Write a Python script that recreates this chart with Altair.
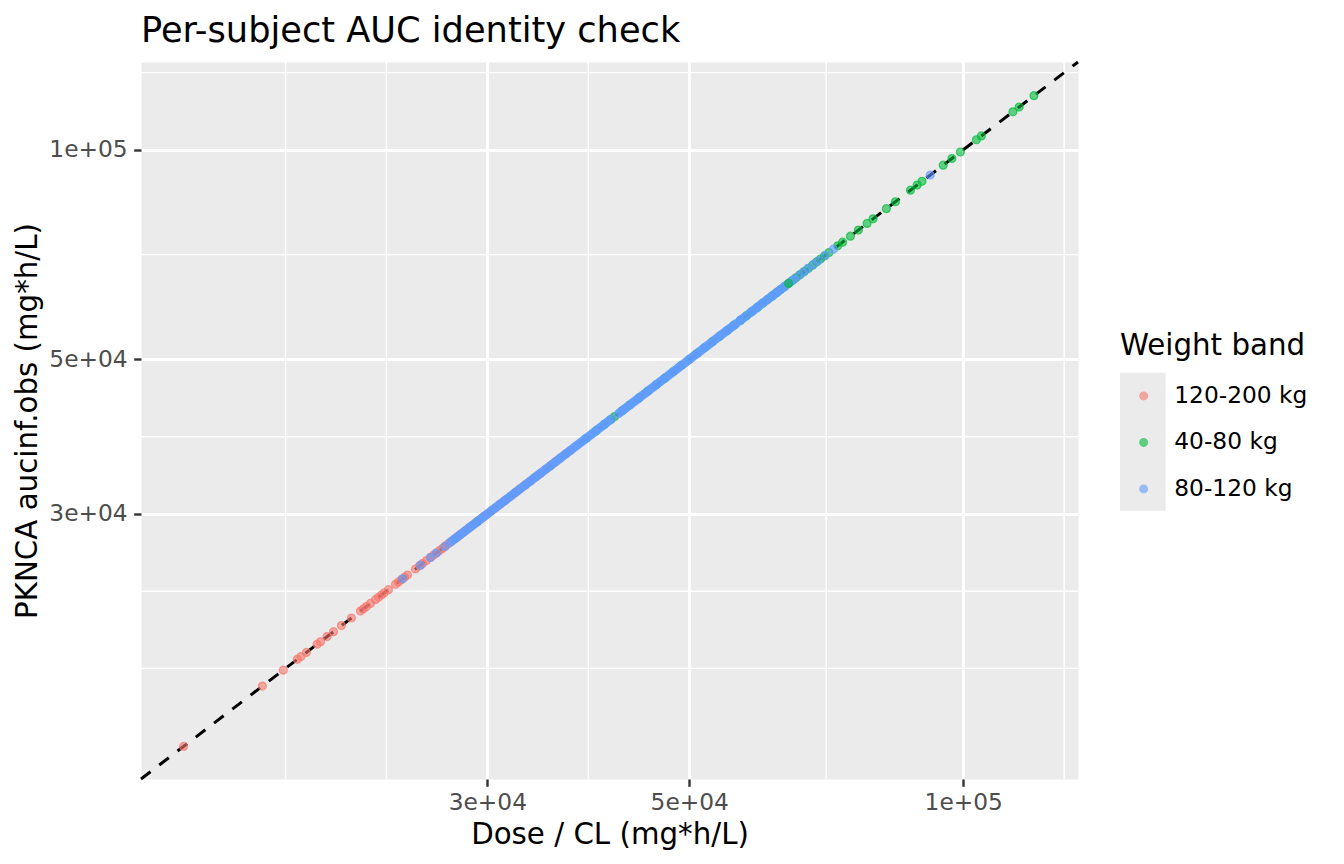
import altair as alt
import pandas as pd

# ---------------- data ----------------
chart_title = "Per-subject AUC identity check"
band_labels = ["120-200 kg", "40-80 kg", "80-120 kg"]
band_colors = ["#F8766D", "#00BA38", "#619CFF"]

# per-subject AUC (mg*h/L); Dose/CL and PKNCA aucinf.obs coincide
auc_120_200 = [13910, 16980, 17900, 18550, 18720, 18980, 19500, 19670, 20000, 20330,
               20740, 21270, 21760, 21920, 22090, 22320, 22600, 22780, 22950, 23120,
               23360, 23780, 23960, 24140, 24330, 24510, 25010, 25270, 25460, 25720,
               25980, 26170, 26370, 26570, 26770, 26980, 27180, 27380, 27590, 27800,
               28000, 28210, 28420, 28640, 28850, 29070, 29290, 29510, 29740, 29960,
               30300, 30650, 31000, 31350, 31800, 32200, 32600, 33000, 33450, 33900,
               34300, 34750, 35200, 35650, 36100, 36550, 37000, 42400]

auc_40_80 = [29230, 38500, 39450, 40300, 41000, 41400, 42200, 43000, 44000, 45000,
             46000, 47000, 48000, 49000, 50000, 51000, 52000, 53000, 54000, 55000,
             56000, 56900, 57800, 58600, 59400, 60200, 61000, 61700, 62400, 63000,
             63600, 64900, 65500, 66200, 66900, 67600, 68300, 69000, 69700, 70400,
             71200, 72800, 73700, 75170, 76700, 78400, 79600, 82330, 84230, 87500,
             89000, 90100, 95060, 97180, 99290, 103400, 104700, 113400, 115200, 119600]

auc_80_120 = [24210, 25330, 25980, 26370, 26950, 27300, 27600, 27850, 28100, 28400,
              28700, 28950, 29250, 29550, 29800, 30100, 30400, 30700, 31000, 31300,
              31600, 31950, 32250, 32550, 32900, 33200, 33550, 33900, 34200, 34550,
              34900, 35250, 35600, 35950, 36300, 36650, 37000, 37400, 37750, 38100,
              38500, 38900, 39250, 39650, 40050, 40450, 40850, 41100, 41800, 42200,
              42600, 43000, 43400, 43800, 44200, 44650, 45100, 45550, 46000, 46450,
              46900, 47400, 47850, 48350, 48800, 49300, 49800, 50300, 50800, 51300,
              51800, 52300, 52800, 53350, 53900, 54400, 54950, 55500, 56050, 56800,
              57300, 58200, 58800, 59500, 60100, 60700, 61300, 61900, 62500, 63100,
              63800, 64500, 65200, 66000, 66700, 67500, 68400, 69300, 70560, 72000,
              92000,
              27450, 27720, 27980, 28250, 28550, 28820, 29100, 29400, 29680, 29950,
              30250, 30550, 30850, 31150, 31450, 31780, 32100, 32400, 32720, 33050,
              33380, 33720, 34050, 34380, 34720, 35080, 35420, 35780, 36120, 36480,
              36820, 37200, 37580, 37920, 38300, 38700, 39080, 39450, 39850, 40250,
              40650, 42000, 42400, 42800, 43200, 43600, 44000, 44420, 44880, 45320,
              45780, 46220, 46680, 47150, 47620, 48100, 48580, 49050, 49550, 50050,
              50550, 51050, 51550, 52050, 52550, 53080, 53620, 54150, 54680, 55220,
              55780, 56320, 57000, 57600, 58500, 59150, 59800, 60400, 61000, 61600,
              62200, 62800, 63450, 64150, 64850]

auc_40_80_front = [64300]

tick_values = [30000, 50000, 100000]
tick_labels = ["3e+04", "5e+04", "1e+05"]
minor_breaks = [18006, 23238, 38730, 70711, 129099]
axis_limits = [12490, 133700]

# ---------------- tables ----------------
rows = []
for band, vals in [(band_labels[0], auc_120_200), (band_labels[1], auc_40_80),
                   (band_labels[2], auc_80_120), (band_labels[1], auc_40_80_front)]:
    for v in vals:
        rows.append({"band": band, "dose_cl": v, "aucinf": v})
df = pd.DataFrame(rows)
minor_df = pd.DataFrame({"b": minor_breaks})
line_df = pd.DataFrame({"v": axis_limits})

FONT = "DejaVu Sans"
label_expr = " : ".join(f"datum.value == {v} ? '{l}'" for v, l in zip(tick_values, tick_labels)) + " : ''"

xscale = alt.Scale(type="log", domain=axis_limits, nice=False, zero=False)
yscale = alt.Scale(type="log", domain=axis_limits, nice=False, zero=False)
cscale = alt.Scale(domain=band_labels, range=band_colors)

common_axis = dict(values=tick_values, labelExpr=label_expr, grid=True, gridColor="white",
                   gridWidth=2.84, domain=False, ticks=True, tickColor="#333333",
                   tickWidth=2.4, tickSize=7.3, labelFont=FONT, labelFontSize=23.3,
                   labelColor="#4D4D4D", labelFlush=False, labelOverlap=False,
                   titleFont=FONT, titleFontSize=29.3, titleFontWeight="normal",
                   titleColor="black", titleAlign="center", titleBaseline="alphabetic")

x_axis = alt.Axis(title="Dose / CL (mg*h/L)", labelPadding=5, titleX=468.5, titleY=64,
                  **common_axis)
y_axis = alt.Axis(title="PKNCA aucinf.obs (mg*h/L)", labelPadding=6.5, titleAngle=270,
                  titleX=-104.3, titleY=358.5, **common_axis)

legend = alt.Legend(title="Weight band", orient="none", legendX=979, legendY=270,
                    padding=0, titleFont=FONT, titleFontSize=29.3,
                    titleFontWeight="normal", titleColor="black", titlePadding=23,
                    titleLimit=600, labelLimit=600,
                    labelFont=FONT, labelFontSize=23.3, labelColor="black",
                    labelOffset=19, symbolOffset=12, rowPadding=22.5,
                    symbolType="circle", symbolSize=60, symbolStrokeWidth=1.2,
                    symbolOpacity=0.6)

key_bg = alt.Chart(pd.DataFrame({"k": [0]})).mark_rect(color="#EBEBEB").encode(
    x=alt.value(979), x2=alt.value(1024.7), y=alt.value(310.7), y2=alt.value(448.7))

title_text = alt.Chart(pd.DataFrame({"t": [chart_title]})).mark_text(
    align="left", baseline="alphabetic", font=FONT, fontSize=35.2, color="black").encode(
    text="t:N", x=alt.value(0), y=alt.value(-20.3))

vminor = alt.Chart(minor_df).mark_rule(color="white", strokeWidth=1.42).encode(
    x=alt.X("b:Q", scale=xscale))
hminor = alt.Chart(minor_df).mark_rule(color="white", strokeWidth=1.42).encode(
    y=alt.Y("b:Q", scale=yscale))

identity = alt.Chart(line_df).mark_line(color="black", strokeWidth=3.0,
                                        strokeDash=[12, 11]).encode(
    x=alt.X("v:Q", scale=xscale),
    y=alt.Y("v:Q", scale=yscale))

points = alt.Chart(df).mark_circle(size=64, opacity=1, fillOpacity=0.6,
                                   strokeOpacity=0.65, strokeWidth=1.2).encode(
    x=alt.X("dose_cl:Q", scale=xscale, axis=x_axis),
    y=alt.Y("aucinf:Q", scale=yscale, axis=y_axis),
    fill=alt.Fill("band:N", scale=cscale, legend=legend),
    stroke=alt.Stroke("band:N", scale=cscale, legend=legend),
)

chart = alt.layer(key_bg, title_text, vminor, hminor, identity, points).properties(
    width=937, height=717,
    padding={"left": 133, "top": 54, "right": 258, "bottom": 77},
    autosize=alt.AutoSizeParams(type="none"),
).configure(font=FONT).configure_view(fill="#EBEBEB", stroke="transparent")

chart.save("out.html", embed_options={"renderer": "svg", "actions": False})
